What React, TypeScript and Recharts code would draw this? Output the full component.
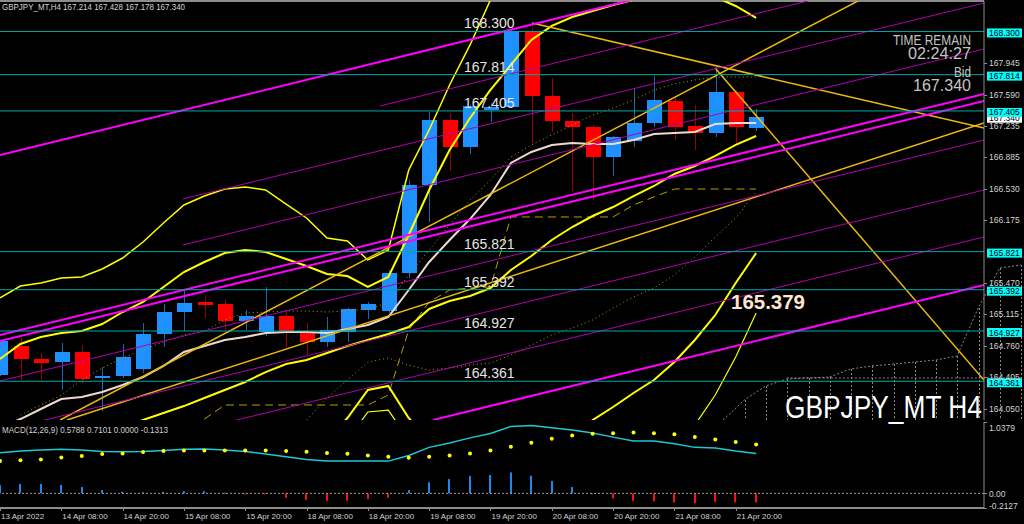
import React from "react";
import { ComposedChart, Bar, Line, XAxis, YAxis, ReferenceLine } from "recharts";

const WIDTH = 1024;
const HEIGHT = 524;
const FONT = "'Liberation Sans', Arial, sans-serif";
const AXIS = "#8c8c8c";
const LABEL = "#d2d2d2";

// bar slots: -1 = 13 Apr 20:00 ... 36 = 22 Apr 00:00 (forming), empty shift area up to 47
const X_MIN = -1;
const X_MAX = 47.15;
const PRICE_MIN = 163.925;
const PRICE_MAX = 168.643;
const MACD_MIN = -0.2127;
const MACD_MAX = 1.0379;

const CANDLE_FROM = -1;
const open = [164.431, 164.758, 164.612, 164.578, 164.69, 164.398, 164.42, 164.499, 164.893, 165.141, 165.254, 165.231, 165.04, 164.916, 165.096, 164.904, 164.803, 164.916, 165.163, 165.152, 165.58, 166.571, 167.303, 166.999, 167.42, 167.45, 168.305, 167.573, 167.292, 167.224, 166.886, 167.067, 167.269, 167.517, 167.236, 167.157, 167.618, 167.214];
const high = [164.83, 164.848, 164.679, 164.792, 164.769, 164.522, 164.781, 165.017, 165.231, 165.4, 165.332, 165.287, 165.163, 165.422, 165.163, 165.017, 165.085, 165.186, 165.254, 165.614, 166.627, 167.393, 167.382, 167.472, 167.49, 168.317, 168.34, 167.776, 167.382, 167.247, 167.123, 167.663, 167.799, 167.573, 167.472, 167.9, 167.641, 167.428];
const low = [164.42, 164.375, 164.364, 164.263, 164.341, 164.026, 164.398, 164.454, 164.747, 164.927, 165.073, 164.938, 164.938, 164.871, 164.747, 164.657, 164.747, 164.803, 165.062, 165.13, 165.524, 166.154, 166.729, 166.92, 167.281, 167.44, 167.044, 167.168, 166.504, 166.402, 166.672, 166.999, 167.224, 167.078, 166.965, 167.112, 167.033, 167.178];
const close = [164.814, 164.612, 164.567, 164.69, 164.386, 164.42, 164.634, 164.893, 165.141, 165.242, 165.22, 165.04, 165.096, 165.096, 164.927, 164.803, 164.938, 165.175, 165.231, 165.58, 166.571, 167.303, 166.999, 167.461, 167.455, 168.305, 167.573, 167.292, 167.224, 166.886, 167.112, 167.269, 167.528, 167.224, 167.157, 167.618, 167.224, 167.34];

const MA_FROM = -1;
const ma = [163.835, 163.936, 164.049, 164.161, 164.184, 164.24, 164.319, 164.409, 164.533, 164.691, 164.758, 164.826, 164.86, 164.905, 164.916, 164.916, 164.905, 164.95, 164.995, 165.085, 165.389, 165.704, 165.952, 166.188, 166.459, 166.819, 166.943, 167.022, 167.044, 167.033, 167.033, 167.078, 167.146, 167.157, 167.168, 167.258, 167.269, 167.269];

const BB_OUT_UP_FROM = -1;
const bbOuterUp = [165.299, 165.434, 165.468, 165.524, 165.535, 165.625, 165.749, 165.929, 166.143, 166.346, 166.447, 166.526, 166.549, 166.515, 166.357, 166.2, 165.974, 165.941, 165.727, 165.839, 166.74, 167.191, 167.697, 168.148, 168.655, 169.105];
const BB_IN_UP_FROM = -1;
const bbInnerUp = [164.612, 164.781, 164.86, 164.905, 164.927, 165.006, 165.141, 165.254, 165.423, 165.591, 165.704, 165.805, 165.839, 165.817, 165.738, 165.659, 165.569, 165.546, 165.423, 165.535, 166.008, 166.515, 166.965, 167.326, 167.641, 167.923, 168.204, 168.362, 168.463, 168.531, 168.598, 168.655, 168.745, 168.767, 168.745, 168.688, 168.587, 168.452];
const BB_MID_FROM = 5;
const bbMid = [163.846, 163.925, 164.004, 164.082, 164.173, 164.263, 164.353, 164.465, 164.555, 164.6, 164.679, 164.758, 164.826, 164.893, 164.972, 165.175, 165.265, 165.321, 165.411, 165.614, 165.772, 165.952, 166.098, 166.222, 166.323, 166.447, 166.56, 166.695, 166.785, 166.898, 167.022, 167.123];
const BB_IN_LOW_FROM = 15;
const bbInnerLow = [163.7, 163.947, 164.263, 164.308, 163.947, 163.7, 163.55, 163.45, 163.4, 163.38, 163.42, 163.55, 163.7, 163.925, 164.071, 164.229, 164.375, 164.578, 164.826, 165.107, 165.468, 165.805];
const BB_OUT_LOW_FROM = 16;
const bbOuterLow = [163.7, 164.015, 164.037, 163.7, 163.4, 163.2, 163.05, 163.0, 162.95, 162.95, 163.0, 163.05, 163.1, 163.15, 163.2, 163.28, 163.474, 163.868, 164.206, 164.634, 165.13];

const SPAN_A_FROM = 0;
const spanDotA = [163.981, 164.094, 164.206, 164.375, 164.51, 164.623, 164.713, 164.803, 164.882, 164.927, 165.051, 165.13, 165.141, 165.152, 165.152, 165.141, 165.152, 165.175, 165.242, 165.558, 165.839, 166.121, 166.402, 166.628, 166.887, 167.022, 167.134, 167.247, 167.359, 167.438, 167.528, 167.641, 167.709, 167.754, 167.787, 167.787, 167.787];
const SPAN_B_FROM = 14;
const spanDotB = [163.925, 164.173, 164.375, 164.578, 164.623, 164.544, 164.488, 164.51, 164.544, 164.567, 164.657, 164.769, 164.882, 164.961, 165.051, 165.186, 165.31, 165.411, 165.558, 165.76, 165.986, 166.2, 166.492];
const KIJUN_FROM = 9;
const kijun = [163.936, 164.094, 164.094, 164.094, 164.094, 164.094, 164.094, 164.094, 164.094, 164.206, 164.938, 165.254, 165.389, 165.411, 165.423, 166.211, 166.211, 166.211, 166.211, 166.211, 166.211, 166.346, 166.436, 166.526, 166.526, 166.526, 166.526, 166.526];

const CLOUD_FROM = 33;
const cloudTop = [163.925, 164.15, 164.308, 164.386, 164.398, 164.409, 164.499, 164.533, 164.555, 164.578, 164.6, 164.645, 165.186, 165.636, 165.67];
const CLOUD_BASE_FROM = 36;
const cloudBase = [164.398, 164.398, 164.398, 164.398, 164.398, 164.398, 164.398, 164.398, 164.398, 164.398, 164.398, 164.398];

const MACD_FROM = -1;
const macd = [0.589, 0.615, 0.632, 0.64, 0.632, 0.61, 0.606, 0.61, 0.625, 0.64, 0.647, 0.632, 0.61, 0.574, 0.531, 0.494, 0.472, 0.469, 0.469, 0.469, 0.552, 0.669, 0.734, 0.807, 0.872, 0.974, 0.988, 0.955, 0.92, 0.879, 0.818, 0.763, 0.76, 0.722, 0.669, 0.661, 0.615, 0.5788];
const signal = [0.469, 0.48, 0.494, 0.523, 0.542, 0.571, 0.581, 0.6, 0.615, 0.625, 0.625, 0.625, 0.625, 0.625, 0.615, 0.606, 0.586, 0.577, 0.552, 0.533, 0.519, 0.533, 0.552, 0.581, 0.625, 0.679, 0.737, 0.795, 0.843, 0.868, 0.876, 0.887, 0.876, 0.858, 0.818, 0.785, 0.746, 0.7101];
const hist = [0.12, 0.135, 0.135, 0.121, 0.092, 0.048, 0.023, 0.015, 0.023, 0.033, 0.029, 0.01, -0.005, -0.01, -0.064, -0.093, -0.108, -0.108, -0.083, -0.064, 0.048, 0.16, 0.208, 0.251, 0.266, 0.305, 0.256, 0.179, 0.092, -0.01, -0.073, -0.108, -0.116, -0.131, -0.145, -0.122, -0.131, -0.1313];

const priceTicks = [167.945, 167.59, 167.235, 166.885, 166.53, 166.175, 165.47, 165.115, 164.76, 164.405, 164.05];
const levels = [168.3, 167.814, 167.405, 165.821, 165.392, 164.927, 164.361];
const bid = 167.34;
const timeTicks = [-1, 2, 5, 8, 11, 14, 17, 20, 23, 26, 29, 32, 35];
const timeLabels = ["13 Apr 2022", "14 Apr 08:00", "14 Apr 20:00", "15 Apr 08:00", "15 Apr 20:00", "18 Apr 08:00", "18 Apr 20:00", "19 Apr 08:00", "19 Apr 20:00", "20 Apr 08:00", "20 Apr 20:00", "21 Apr 08:00", "21 Apr 20:00"];

// trend lines as [fromSlot, fromPrice, toSlot, toPrice]
const magentaBold = [
  [-1, 164.882, 47.15, 167.596],
  [-1, 164.814, 47.15, 167.517],
  [20.19, 163.925, 47.15, 165.445],
  [-1, 166.909, 29.93, 168.655],
];
const magentaThin = [
  [17.59, 167.461, 38.73, 168.655],
  [7.95, 166.414, 47.15, 168.621],
  [7.95, 165.896, 47.15, 168.103],
  [-1, 164.364, 47.15, 167.078],
  [-1, 163.801, 47.15, 166.515],
  [-1, 163.272, 47.15, 165.986],
];
const goldLines = [
  [2.28, 163.925, 47.15, 167.269],
  [1.94, 163.925, 41.08, 168.655],
  [25.03, 168.396, 47.15, 167.213],
  [33.99, 167.889, 47.15, 164.375],
];

const pick = (arr: number[], from: number, i: number) => {
  const k = i - from;
  return k >= 0 && k < arr.length ? arr[k] : null;
};

const rows = [] as any[];
for (let i = -1; i <= 47; i++) {
  const o = pick(open, CANDLE_FROM, i);
  const ct = pick(cloudTop, CLOUD_FROM, i);
  rows.push({
    i,
    o,
    h: pick(high, CANDLE_FROM, i),
    l: pick(low, CANDLE_FROM, i),
    c: pick(close, CANDLE_FROM, i),
    range: o == null ? null : [pick(low, CANDLE_FROM, i), pick(high, CANDLE_FROM, i)],
    ma: pick(ma, MA_FROM, i),
    bbOuterUp: pick(bbOuterUp, BB_OUT_UP_FROM, i),
    bbInnerUp: pick(bbInnerUp, BB_IN_UP_FROM, i),
    bbMid: pick(bbMid, BB_MID_FROM, i),
    bbInnerLow: pick(bbInnerLow, BB_IN_LOW_FROM, i),
    bbOuterLow: pick(bbOuterLow, BB_OUT_LOW_FROM, i),
    spanA: pick(spanDotA, SPAN_A_FROM, i),
    spanB: pick(spanDotB, SPAN_B_FROM, i),
    kijun: pick(kijun, KIJUN_FROM, i),
    cloud: ct,
    cloudRange: ct == null ? null : [PRICE_MIN, ct],
    cloudBase: pick(cloudBase, CLOUD_BASE_FROM, i),
    macd: pick(macd, MACD_FROM, i),
    signal: pick(signal, MACD_FROM, i),
    hist: pick(hist, MACD_FROM, i),
  });
}

function Candle(props: any) {
  const { x, y, width, height, payload } = props;
  if (!payload || payload.o == null || !Number.isFinite(x)) return null;
  const cx = Math.round(x + width / 2);
  const top = Math.min(y, y + height);
  const span = Math.abs(height);
  const k = payload.h > payload.l ? span / (payload.h - payload.l) : 0;
  const yo = top + (payload.h - payload.o) * k;
  const yc = top + (payload.h - payload.c) * k;
  const up = payload.c >= payload.o;
  const bt = Math.round(Math.min(yo, yc));
  const bh = Math.max(1, Math.round(Math.abs(yo - yc)));
  return (
    <g>
      <line x1={cx + 0.5} x2={cx + 0.5} y1={top} y2={top + span} stroke={up ? "#1f66b0" : "#9a0000"} strokeWidth={1} />
      <rect x={cx - 7} y={bt} width={15} height={bh} fill={up ? "#1e90ff" : "#ff0000"} />
    </g>
  );
}

function CloudHatch(props: any) {
  const { x, y, width, height, payload } = props;
  if (!payload || payload.cloud == null || !Number.isFinite(x)) return null;
  const cx = Math.round(x + width / 2) + 0.5;
  const top = Math.min(y, y + height);
  return <line x1={cx} x2={cx} y1={top} y2={top + Math.abs(height)} stroke="#8a8a8a" strokeDasharray="2 2" />;
}

function HistBar(props: any) {
  const { x, y, width, height, payload } = props;
  if (!payload || payload.hist == null || !Number.isFinite(x)) return null;
  const cx = Math.round(x + width / 2);
  const top = Math.min(y, y + height);
  return <rect x={cx - 1} y={top} width={2} height={Math.max(1, Math.abs(height))} fill={payload.hist >= 0 ? "#1e88f0" : "#ff1010"} />;
}

function PriceTick(props: any) {
  const { x, y, payload } = props;
  const yy = Math.round(y) + 0.5;
  return (
    <g>
      <line x1={x} x2={x + 3} y1={yy} y2={yy} stroke={AXIS} />
      <text x={x + 5} y={y + 3} fontSize={8.5} fill={LABEL} fontFamily={FONT}>
        {Number(payload.value).toFixed(3)}
      </text>
    </g>
  );
}

function MacdTick(props: any) {
  const { x, y, payload } = props;
  const v = Number(payload.value);
  const text = v === 0 ? "0.00" : v.toFixed(4);
  const dy = v > 0.5 ? 9 : v < 0 ? 1 : 3.5;
  return (
    <g>
      <line x1={x} x2={x + 3} y1={Math.round(y) + 0.5} y2={Math.round(y) + 0.5} stroke={AXIS} />
      <text x={x + 5} y={y + dy} fontSize={8.5} fill={LABEL} fontFamily={FONT}>
        {text}
      </text>
    </g>
  );
}

function TimeTick(props: any) {
  const { x, y, payload } = props;
  const label = timeLabels[timeTicks.indexOf(payload.value)];
  const xx = Math.round(x) + 0.5;
  return (
    <g>
      <line x1={xx} x2={xx} y1={y} y2={y + 3} stroke={AXIS} />
      <text x={Math.max(x + 1, 1)} y={y + 11} fontSize={8} fill={LABEL} fontFamily={FONT}>
        {label}
      </text>
    </g>
  );
}

function AxisTag({ viewBox, value, fill, inside }: any) {
  if (!viewBox) return null;
  const { x, y, width } = viewBox;
  return (
    <g>
      {inside && (
        <text x={x + 464} y={y - 3} fontSize={14} fill="#e6e6e6" fontFamily={FONT}>
          {value.toFixed(3)}
        </text>
      )}
      <rect x={x + width + 3} y={y - 3} width={35} height={9} fill={fill} />
      <text x={x + width + 5} y={y + 4.5} fontSize={8.5} fill="#000" fontFamily={FONT}>
        {value.toFixed(3)}
      </text>
    </g>
  );
}

const layer: React.CSSProperties = { position: "absolute", left: 0, top: 0 };

export default function App() {
  const priceX = (
    <XAxis type="number" dataKey="i" domain={[X_MIN, X_MAX]} allowDataOverflow hide />
  );
  return (
    <div style={{ position: "absolute", left: 0, top: 0, width: WIDTH, height: HEIGHT, background: "#000", overflow: "hidden" }}>
      {/* ichimoku-style future cloud hatching */}
      <div style={layer}>
        <ComposedChart width={WIDTH} height={HEIGHT} data={rows} margin={{ top: 1, right: 0, bottom: 104, left: 0 }}>
          {priceX}
          <YAxis orientation="right" width={40} type="number" domain={[PRICE_MIN, PRICE_MAX]} allowDataOverflow hide />
          <Bar dataKey="cloudRange" shape={CloudHatch} barSize={2} isAnimationActive={false} />
          <Line dataKey="cloud" stroke="#8a8a8a" strokeDasharray="2 2" dot={false} isAnimationActive={false} />
          <Line dataKey="cloudBase" stroke="#8a8a8a" strokeDasharray="2 2" dot={false} isAnimationActive={false} />
        </ComposedChart>
      </div>

      {/* price window */}
      <div style={layer}>
        <ComposedChart width={WIDTH} height={HEIGHT} data={rows} margin={{ top: 1, right: 0, bottom: 104, left: 0 }}>
          <XAxis type="number" dataKey="i" domain={[X_MIN, X_MAX]} allowDataOverflow height={0} tick={false} tickLine={false} axisLine={{ stroke: AXIS, strokeWidth: 2 }} />
          <YAxis
            orientation="right"
            width={40}
            type="number"
            domain={[PRICE_MIN, PRICE_MAX]}
            allowDataOverflow
            ticks={priceTicks}
            interval={0}
            tickSize={0}
            tickMargin={0}
            tickLine={false}
            tick={(p: any) => <PriceTick {...p} />}
            axisLine={{ stroke: AXIS }}
          />
          <ReferenceLine y={PRICE_MAX} stroke={AXIS} strokeWidth={2} />
          <Bar dataKey="range" shape={Candle} barSize={15} isAnimationActive={false} />
          <Line dataKey="spanA" stroke="#a3a300" strokeDasharray="1 3" dot={false} isAnimationActive={false} />
          <Line dataKey="spanB" stroke="#a3a300" strokeDasharray="1 3" dot={false} isAnimationActive={false} />
          <Line dataKey="kijun" stroke="#b3a300" strokeDasharray="8 5" dot={false} isAnimationActive={false} />
          <Line dataKey="ma" stroke="#eedbd0" strokeWidth={2} dot={false} isAnimationActive={false} />
          <Line dataKey="bbMid" stroke="#ffff00" strokeWidth={2} dot={false} isAnimationActive={false} />
          <Line dataKey="bbInnerUp" stroke="#ffff00" strokeWidth={2} dot={false} isAnimationActive={false} />
          <Line dataKey="bbInnerLow" stroke="#ffff00" strokeWidth={2} dot={false} isAnimationActive={false} />
          <Line dataKey="bbOuterUp" stroke="#ffff00" strokeWidth={1.5} dot={false} isAnimationActive={false} />
          <Line dataKey="bbOuterLow" stroke="#ffff00" strokeWidth={1.2} dot={false} isAnimationActive={false} />
          {goldLines.map(([a, b, c, d], k) => (
            <ReferenceLine key={`g${k}`} segment={[{ x: a, y: b }, { x: c, y: d }]} stroke="#ecb90c" strokeWidth={1.5} ifOverflow="hidden" />
          ))}
          {magentaThin.map(([a, b, c, d], k) => (
            <ReferenceLine key={`t${k}`} segment={[{ x: a, y: b }, { x: c, y: d }]} stroke="#b000b0" strokeWidth={1} ifOverflow="hidden" />
          ))}
          {magentaBold.map(([a, b, c, d], k) => (
            <ReferenceLine key={`m${k}`} segment={[{ x: a, y: b }, { x: c, y: d }]} stroke="#ff00ff" strokeWidth={2} ifOverflow="hidden" />
          ))}
          <ReferenceLine y={bid} stroke="none" label={{ content: (p: any) => <AxisTag viewBox={p.viewBox} value={bid} fill="#ffffff" /> }} />
          {levels.map((v) => (
            <ReferenceLine
              key={`l${v}`}
              y={v}
              stroke="#00a8a8"
              label={{ content: (p: any) => <AxisTag viewBox={p.viewBox} value={v} fill="#00ffff" inside /> }}
            />
          ))}
        </ComposedChart>
      </div>

      {/* MACD window */}
      <div style={layer}>
        <ComposedChart width={WIDTH} height={HEIGHT} data={rows} margin={{ top: 422, right: 0, bottom: 0, left: 0 }}>
          <XAxis
            type="number"
            dataKey="i"
            domain={[X_MIN, X_MAX]}
            allowDataOverflow
            height={16}
            ticks={timeTicks}
            interval={0}
            tickSize={0}
            tickMargin={0}
            tickLine={false}
            tick={(p: any) => <TimeTick {...p} />}
            axisLine={{ stroke: AXIS, strokeWidth: 2 }}
          />
          <YAxis
            orientation="right"
            width={40}
            type="number"
            domain={[MACD_MIN, MACD_MAX]}
            allowDataOverflow
            ticks={[MACD_MAX, 0, MACD_MIN]}
            interval={0}
            tickSize={0}
            tickMargin={0}
            tickLine={false}
            tick={(p: any) => <MacdTick {...p} />}
            axisLine={{ stroke: AXIS }}
          />
          <ReferenceLine y={0} stroke="#a0a0a0" strokeDasharray="2 2" />
          <Bar dataKey="hist" shape={HistBar} barSize={2} isAnimationActive={false} />
          <Line dataKey="macd" stroke="#1ec8d2" strokeWidth={1.5} dot={false} isAnimationActive={false} />
          <Line dataKey="signal" stroke="none" dot={{ r: 2, fill: "#ffff00", stroke: "none" }} isAnimationActive={false} />
        </ComposedChart>
      </div>

      {/* terminal text overlays */}
      <svg width={WIDTH} height={HEIGHT} style={{ ...layer, pointerEvents: "none" }} fontFamily={FONT}>
        <text x={2} y={10} fontSize={9.5} fill={LABEL} textLength={183} lengthAdjust="spacingAndGlyphs">
          GBPJPY_MT,H4  167.214 167.428 167.178 167.340
        </text>
        <text x={2} y={433} fontSize={9.5} fill={LABEL} textLength={166} lengthAdjust="spacingAndGlyphs">
          MACD(12,26,9) 0.5788 0.7101 0.0000 -0.1313
        </text>
        <text x={893} y={45} fontSize={14} fill="#c4c4c4" textLength={78} lengthAdjust="spacingAndGlyphs">TIME REMAIN</text>
        <text x={908} y={59} fontSize={16} fill="#c4c4c4" textLength={63} lengthAdjust="spacingAndGlyphs">02:24:27</text>
        <text x={954} y={77} fontSize={14} fill="#c4c4c4" textLength={17} lengthAdjust="spacingAndGlyphs">Bid</text>
        <text x={913} y={91} fontSize={16} fill="#c4c4c4" textLength={58} lengthAdjust="spacingAndGlyphs">167.340</text>
        <text x={731} y={309} fontSize={20} fontWeight="bold" fill="#ffe6d2" textLength={74} lengthAdjust="spacingAndGlyphs">165.379</text>
        <text x={785} y={418} fontSize={32} fill="#ffffff" textLength={197} lengthAdjust="spacingAndGlyphs">GBPJPY_MT H4</text>
      </svg>
    </div>
  );
}
